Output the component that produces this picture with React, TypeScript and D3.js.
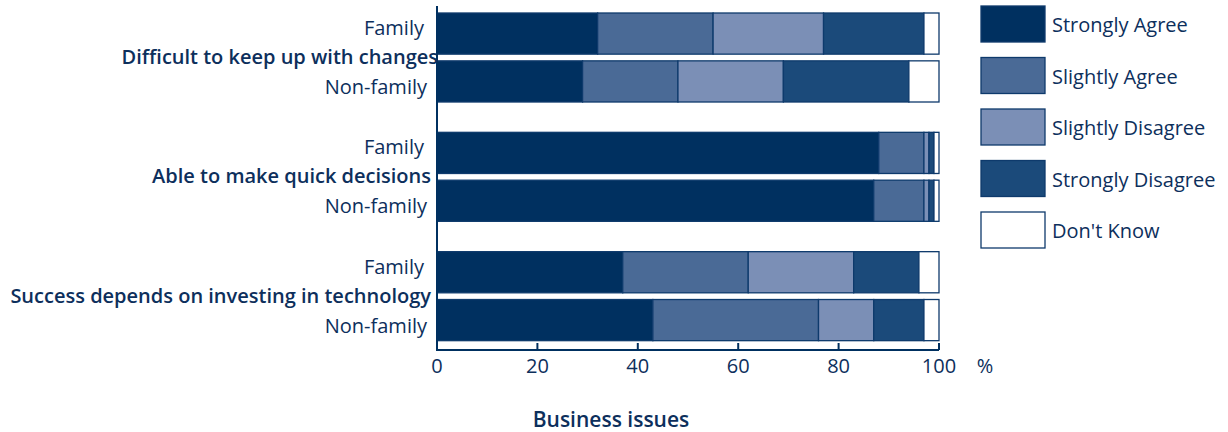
import React from "react";
import * as d3 from "d3";

const issues = ["Difficult to keep up with changes", "Able to make quick decisions", "Success depends on investing in technology"];
const groups = ["Family", "Non-family"];
const seriesNames = ["Strongly Agree", "Slightly Agree", "Slightly Disagree", "Strongly Disagree", "Don't Know"];
const colors = ["#003060", "#4a6a96", "#7b8fb6", "#1b4a7a", "#ffffff"];
// values per issue, per group (Family, Non-family)
const stronglyAgree = [32, 29, 88, 87, 37, 43];
const slightlyAgree = [23, 19, 9, 10, 25, 33];
const slightlyDisagree = [22, 21, 1, 1, 21, 11];
const stronglyDisagree = [20, 25, 1, 1, 13, 10];
const dontKnow = [3, 6, 1, 1, 4, 3];
const xTicks = [0, 20, 40, 60, 80, 100];

const TEXT = "#0d2f5c";
const FONT = "'Open Sans', sans-serif";

export default function App() {
  const W = 1228, H = 432;
  const x = d3.scaleLinear().domain([0, 100]).range([437, 939]);
  const yIssue = d3.scaleBand().domain(issues).range([13, 371]).paddingInner(0).paddingOuter(0);
  const yGroup = d3.scaleBand().domain(groups).range([0, 89]).paddingInner(0.14);

  const rows = issues.flatMap((issue, i) =>
    groups.map((g, j) => {
      const k = i * 2 + j;
      return {
        issue, group: g,
        "Strongly Agree": stronglyAgree[k],
        "Slightly Agree": slightlyAgree[k],
        "Slightly Disagree": slightlyDisagree[k],
        "Strongly Disagree": stronglyDisagree[k],
        "Don't Know": dontKnow[k],
      } as any;
    })
  );
  const stacked = d3.stack<any>().keys(seriesNames)(rows);

  const yRow = (r: any) => (yIssue(r.issue) as number) + (yGroup(r.group) as number);
  const axisY = 350;

  return (
    <svg width={W} height={H} style={{ position: "absolute", left: 0, top: 0 }}>
      <rect width={W} height={H} fill="#fff" />
      {stacked.map((s, si) =>
        s.map((d, di) => (
          <rect
            key={`${si}-${di}`}
            x={x(d[0])}
            y={yRow(d.data)}
            width={x(d[1]) - x(d[0])}
            height={yGroup.bandwidth()}
            fill={colors[si]}
            stroke="#0e3a6c"
            strokeWidth={1.3}
          />
        ))
      )}
      {/* axes */}
      <line x1={437} x2={437} y1={6} y2={axisY + 1} stroke="#003060" strokeWidth={2} />
      <line x1={436} x2={x(100)} y1={axisY} y2={axisY} stroke="#003060" strokeWidth={2} />
      {xTicks.map((t) => (
        <g key={t}>
          <line x1={x(t)} x2={x(t)} y1={axisY} y2={axisY - 7} stroke="#003060" strokeWidth={2} />
          <text x={x(t)} y={373} textAnchor="middle" fontFamily={FONT} fontSize={20} fill={TEXT}>{t}</text>
        </g>
      ))}
      <text x={985} y={373} textAnchor="middle" fontFamily={FONT} fontSize={20} fill={TEXT}>%</text>
      {/* y labels */}
      {rows.map((r, i) => (
        <text key={i} x={r.group === "Family" ? 424 : 427}
          y={r.group === "Family" ? yRow(r) + 22 : yRow(r) + 33} textAnchor="end"
          fontFamily={FONT} fontSize={20} fill={TEXT}>{r.group}</text>
      ))}
      {issues.map((iss, i) => (
        <text key={iss} x={i === 0 ? 438 : 431} y={(yIssue(iss) as number) + 51} textAnchor="end"
          fontFamily={FONT} fontSize={20} fontWeight={600} fill={TEXT}>{iss}</text>
      ))}
      <text x={611} y={427} textAnchor="middle" fontFamily={FONT} fontSize={21} fontWeight={600} fill={TEXT}>Business issues</text>
      {/* legend */}
      {seriesNames.map((n, i) => (
        <g key={n} transform={`translate(981,${6 + i * 51.5})`}>
          <rect x={0} y={0} width={64} height={36} fill={colors[i]} stroke="#0e3a6c" strokeWidth={1.3} />
          <text x={71} y={26} fontFamily={FONT} fontSize={20} fill={TEXT}>{n}</text>
        </g>
      ))}
    </svg>
  );
}
